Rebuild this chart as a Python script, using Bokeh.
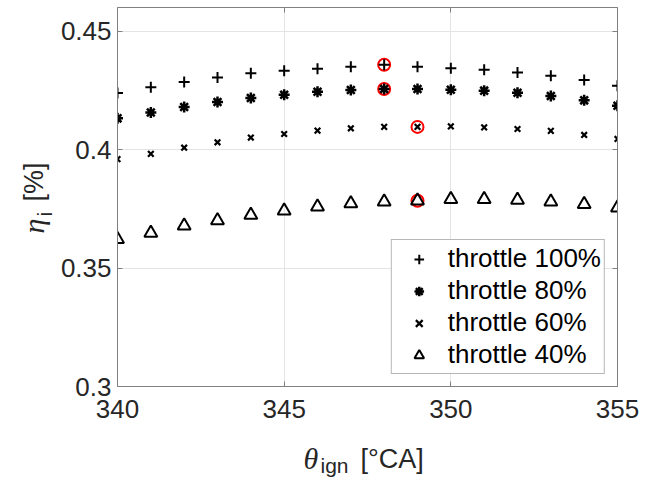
import math

from bokeh.embed import file_html
from bokeh.models import FixedTicker, Label, Legend, LegendItem, LinearAxis, Range1d
from bokeh.plotting import figure
from bokeh.resources import INLINE

# Ignition angle sweep [deg CA]
theta_ign = [340, 341, 342, 343, 344, 345, 346, 347,
             348, 349, 350, 351, 352, 353, 354, 355]

# Indicated efficiency for each throttle opening
eta_100 = [0.4239, 0.4263, 0.4285, 0.4305, 0.4322, 0.4333, 0.4341, 0.4350,
           0.4358, 0.4350, 0.4344, 0.4337, 0.4326, 0.4312, 0.4294, 0.4270]
eta_80 = [0.4132, 0.4157, 0.4180, 0.4201, 0.4218, 0.4232, 0.4244, 0.4252,
          0.4256, 0.4256, 0.4253, 0.4249, 0.4240, 0.4226, 0.4208, 0.4185]
eta_60 = [0.3960, 0.3982, 0.4008, 0.4031, 0.4051, 0.4066, 0.4080, 0.4090,
          0.4096, 0.4096, 0.4098, 0.4094, 0.4087, 0.4079, 0.4062, 0.4045]
eta_40 = [0.3622, 0.3648, 0.3679, 0.3701, 0.3724, 0.3742, 0.3759, 0.3773,
          0.3780, 0.3784, 0.3791, 0.3791, 0.3787, 0.3780, 0.3769, 0.3755]

series_labels = ["throttle 100%", "throttle 80%", "throttle 60%", "throttle 40%"]

# Selected ignition angle for each throttle (highlighted in red)
theta_opt = [348, 348, 349, 349]

x_ticks = [340, 345, 350, 355]
x_tick_labels = ["340", "345", "350", "355"]
y_ticks = [0.3, 0.35, 0.4, 0.45]
y_tick_labels = ["0.3", "0.35", "0.4", "0.45"]

X_MIN, X_MAX = 340, 355
Y_MIN, Y_MAX = 0.3, 0.46

FONT = "Liberation Sans"
MATH_FONT = "Liberation Serif"
AXIS_GRAY = "#808080"
TEXT_COLOR = "#262626"

LEFT, RIGHT, TOP, BOTTOM = 117, 39, 7, 92
W, H = 656, 478

p = figure(width=W, height=H,
           x_range=Range1d(X_MIN, X_MAX), y_range=Range1d(Y_MIN, Y_MAX),
           output_backend="svg", toolbar_location=None,
           min_border_left=LEFT, min_border_right=RIGHT,
           min_border_top=TOP, min_border_bottom=BOTTOM)
p.outline_line_color = None
p.background_fill_color = "white"
p.border_fill_color = "white"


def style_axis(ax, ticks, labels, show_labels, standoff):
    ax.ticker = FixedTicker(ticks=ticks)
    ax.axis_line_color = AXIS_GRAY
    ax.axis_line_width = 1
    ax.major_tick_line_color = AXIS_GRAY
    ax.major_tick_in = 5
    ax.major_tick_out = 0
    ax.minor_tick_line_color = None
    ax.major_label_text_font = FONT
    ax.major_label_standoff = standoff
    if show_labels:
        ax.major_label_overrides = dict(zip(ticks, labels))
        ax.major_label_text_font_size = "26px"
        ax.major_label_text_color = TEXT_COLOR
    else:
        # box edge only: ticks without labels
        ax.major_label_text_font_size = "0px"
        ax.major_label_text_color = None
        ax.major_label_standoff = 0


style_axis(p.xaxis[0], x_ticks, x_tick_labels, True, 13)
style_axis(p.yaxis[0], y_ticks, y_tick_labels, True, 6)

top_axis = LinearAxis()
right_axis = LinearAxis()
style_axis(top_axis, x_ticks, x_tick_labels, False, 0)
style_axis(right_axis, y_ticks, y_tick_labels, False, 0)
p.add_layout(top_axis, "above")
p.add_layout(right_axis, "right")

p.xgrid.ticker = FixedTicker(ticks=x_ticks)
p.ygrid.ticker = FixedTicker(ticks=y_ticks)
for g in (p.xgrid[0], p.ygrid[0]):
    g.grid_line_color = "#e4e4e4"
    g.grid_line_width = 1

# Highlight rings at the selected ignition angles
all_series = [eta_100, eta_80, eta_60, eta_40]
opt_y = [s[theta_ign.index(t)] for s, t in zip(all_series, theta_opt)]
p.scatter(theta_opt, opt_y, marker="circle", size=12, fill_color=None,
          line_color="#ff0000", line_width=2)

r100 = p.scatter(theta_ign, eta_100, marker="cross", size=11,
                 line_color="black", line_width=2)
r80 = p.scatter(theta_ign, eta_80, marker="asterisk", size=11,
                line_color="black", line_width=2.5)
r80c = p.scatter(theta_ign, eta_80, marker="circle", size=5,
                 line_color="black", fill_color="black")
r60 = p.scatter(theta_ign, eta_60, marker="x", size=8,
                line_color="black", line_width=2.2)
r40 = p.scatter(theta_ign, eta_40, marker="triangle", size=13,
                line_color="black", line_width=2, fill_color=None)

legend = Legend(items=[
    LegendItem(label=series_labels[0], renderers=[r100]),
    LegendItem(label=series_labels[1], renderers=[r80]),
    LegendItem(label=series_labels[2], renderers=[r60]),
    LegendItem(label=series_labels[3], renderers=[r40]),
], location="bottom_right")
legend.margin = 12
legend.padding = 3
legend.spacing = 1
legend.glyph_width = 48
legend.glyph_height = 24
legend.label_height = 24
legend.label_standoff = 5
legend.label_text_font = FONT
legend.label_text_font_size = "26px"
legend.label_text_color = "black"
legend.border_line_color = "#6e6e6e"
legend.border_line_width = 1
legend.background_fill_color = "white"
legend.background_fill_alpha = 1
p.add_layout(legend, "center")

# Axis titles are assembled from separate labels (symbol, subscript, unit)
# and kept in the side panels so they are not clipped by the plot frame.
frame_w = W - LEFT - RIGHT
frame_h = H - TOP - BOTTOM


def data_x(cx):
    return X_MIN + (cx - LEFT) * (X_MAX - X_MIN) / frame_w


def data_y(cy):
    return Y_MIN + (H - BOTTOM - cy) * (Y_MAX - Y_MIN) / frame_h


def add_text(side, text, cx, cy, font, size, style="normal", angle=0.0):
    p.add_layout(Label(x=data_x(cx), y=data_y(cy),
                       text=text, text_font=font, text_font_size=size,
                       text_font_style=style, text_color=TEXT_COLOR,
                       text_align="left", text_baseline="alphabetic",
                       angle=angle), side)


# x label: theta_ign [°CA]
add_text("left", "θ", 303, 458, MATH_FONT, "30px", "italic")
add_text("left", "ign", 320, 465, FONT, "21px")
add_text("below", "[°CA]", 360, 458, FONT, "27px")

# y label: eta_i [%]
add_text("below", "η", 33, 233, MATH_FONT, "30px", "italic", math.pi / 2)
add_text("above", "i", 44, 216, FONT, "21px", "normal", math.pi / 2)
add_text("right", "[%]", 33, 201, FONT, "27px", "normal", math.pi / 2)

open("out.html", "w").write(file_html(p, INLINE))
